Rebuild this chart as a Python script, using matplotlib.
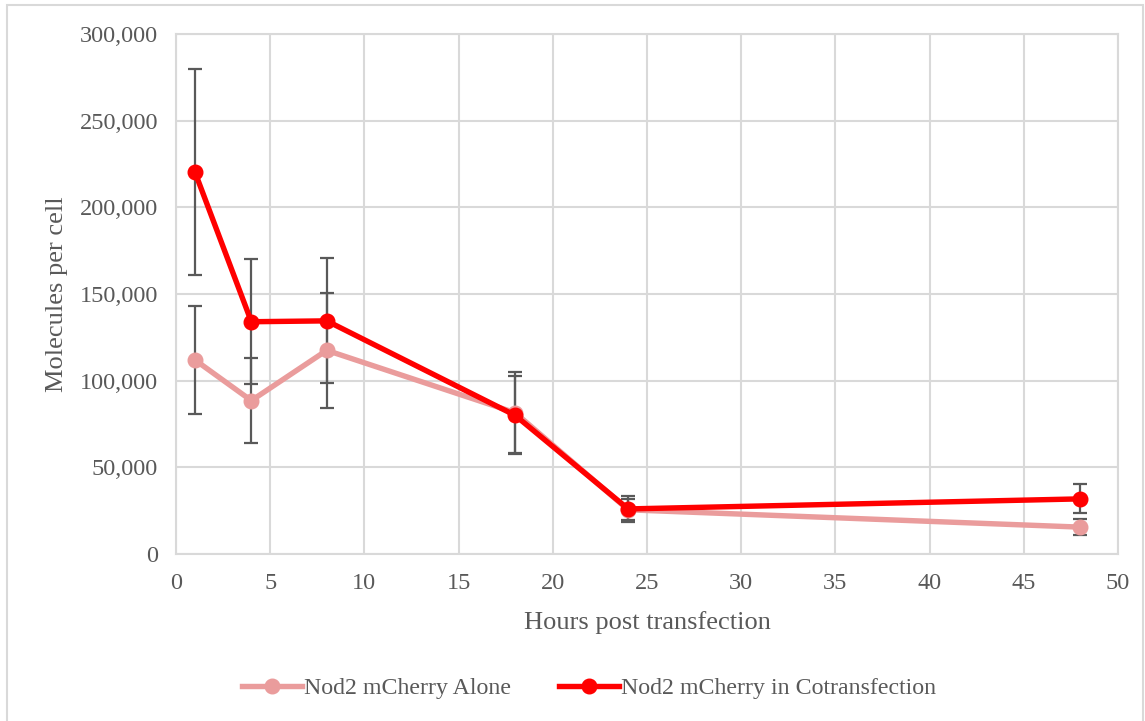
"""Nod2 mCherry molecules per cell over time, alone vs. cotransfected."""

import matplotlib.pyplot as plt
from matplotlib.patches import Rectangle
from matplotlib.ticker import FuncFormatter, MultipleLocator

hours = [1, 4, 8, 18, 24, 48]

alone_mean = [112000, 88500, 117500, 81500, 25500, 15500]
alone_err = [31000, 24500, 33000, 23500, 6000, 4500]

cotrans_mean = [220500, 134000, 134500, 80000, 26000, 31800]
cotrans_err = [59500, 36000, 36000, 22500, 7600, 8300]

labels = ["Nod2 mCherry Alone", "Nod2 mCherry in Cotransfection"]
colors = ["#EA9C9C", "#FF0000"]

TEXT = "#595959"
GRID = "#D9D9D9"

plt.rcParams["font.family"] = ["Liberation Serif", "DejaVu Serif"]

fig = plt.figure(figsize=(11.45, 7.21), dpi=100)
ax = fig.add_axes([176 / 1145, 1 - 554 / 721, (1118 - 176) / 1145, (554 - 34) / 721])

# chart frame
fig.patches.append(Rectangle((7 / 1145, -0.05), 1136 / 1145, 1 - 5 / 721 + 0.05,
                             transform=fig.transFigure, fill=False,
                             edgecolor=GRID, linewidth=1.5))

series = [(alone_mean, alone_err), (cotrans_mean, cotrans_err)]
for (mean, err), label, color in zip(series, labels, colors):
    ax.errorbar(hours, mean, yerr=err, fmt="none", ecolor="#595959",
                elinewidth=1.6, capsize=5, capthick=1.6, zorder=2)
    ax.plot(hours, mean, color=color, linewidth=3.9, marker="o",
            markersize=10.5, label=label, zorder=3)

ax.set_xlim(0, 50)
ax.set_ylim(0, 300000)
ax.xaxis.set_major_locator(MultipleLocator(5))
ax.yaxis.set_major_locator(MultipleLocator(50000))
ax.yaxis.set_major_formatter(FuncFormatter(lambda v, p: f"{int(v):,}"))

ax.grid(True, color=GRID, linewidth=1.5)
ax.set_axisbelow(True)
for side in ax.spines.values():
    side.set_color(GRID)
    side.set_linewidth(1.5)
ax.tick_params(length=0, labelsize=17.5, labelcolor=TEXT)
ax.tick_params(axis="y", pad=13)
ax.tick_params(axis="x", pad=14)

ax.set_xlabel("Hours post transfection", fontsize=19, color=TEXT, labelpad=12)
ax.set_ylabel("Molecules per cell", fontsize=19, color=TEXT, labelpad=8)

fig.legend(loc="center", bbox_to_anchor=(589 / 1145, 1 - 688 / 721), ncol=2,
           frameon=False, fontsize=17.2, labelcolor=TEXT, handlelength=2.5,
           handletextpad=0.1, columnspacing=2.0)

fig.savefig("out.png", dpi=100)
